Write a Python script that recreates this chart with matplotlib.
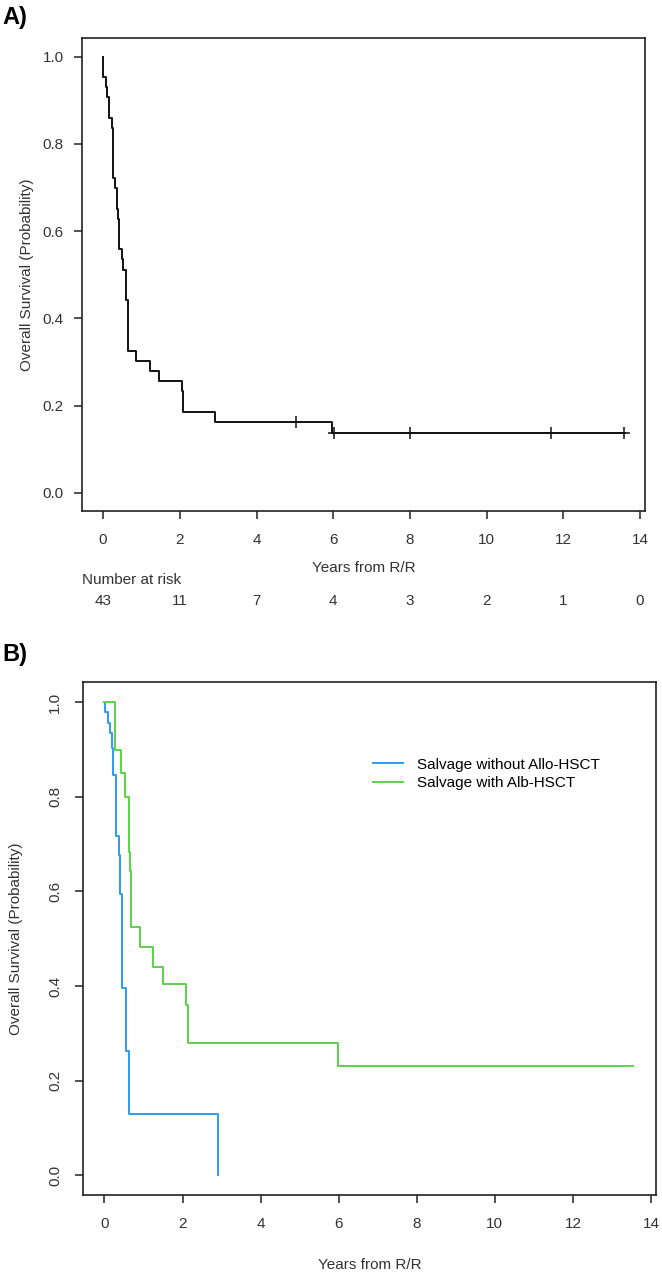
import matplotlib
matplotlib.use("Agg")
import matplotlib.pyplot as plt
import matplotlib.transforms as mtransforms

plt.rcParams["font.family"] = ["Liberation Sans", "DejaVu Sans"]

# --- Panel A: all patients (step-post: time in years, survival after step) ---
A_TIME = [0.0, 0.01, 0.07, 0.11, 0.165, 0.22, 0.25, 0.30, 0.36, 0.39, 0.425,
          0.48, 0.53, 0.60, 0.64, 0.85, 1.21, 1.47, 2.05, 2.08, 2.91, 5.97, 13.6]
A_SURV = [1.0, 0.953, 0.930, 0.907, 0.860, 0.837, 0.721, 0.698, 0.651, 0.628,
          0.558, 0.535, 0.512, 0.442, 0.326, 0.302, 0.279, 0.256, 0.233, 0.186,
          0.163, 0.136, 0.136]
A_CENS_T = [5.03, 6.02, 7.99, 11.67, 13.57]
A_CENS_S = [0.163, 0.136, 0.136, 0.136, 0.136]
RISK_T = [0, 2, 4, 6, 8, 10, 12, 14]
RISK_N = [43, 11, 7, 4, 3, 2, 1, 0]

# --- Panel B: salvage with / without allo-HSCT ---
NO_TIME = [0.0, 0.02, 0.08, 0.135, 0.18, 0.22, 0.30, 0.36, 0.41, 0.45, 0.56,
           0.64, 2.92]
NO_SURV = [1.0, 0.979, 0.956, 0.934, 0.904, 0.847, 0.718, 0.678, 0.595, 0.395,
           0.263, 0.130, 0.0]
HS_TIME = [0.0, 0.28, 0.435, 0.53, 0.62, 0.65, 0.69, 0.92, 1.245, 1.50, 2.10,
           2.14, 5.97, 13.55]
HS_SURV = [1.0, 0.90, 0.85, 0.80, 0.683, 0.644, 0.525, 0.483, 0.441, 0.404,
           0.360, 0.280, 0.231, 0.231]
LABELS = ["Salvage without Allo-HSCT", "Salvage with Alb-HSCT"]
COLORS = ["#2b9cf2", "#5bd24a"]

XTICKS = [0, 2, 4, 6, 8, 10, 12, 14]
YTICKS = [0.0, 0.2, 0.4, 0.6, 0.8, 1.0]
FS = 11


def style(ax):
    ax.set_xlim(-0.55, 14.13)
    ax.set_ylim(-0.042, 1.043)
    ax.set_xticks(XTICKS)
    ax.set_yticks(YTICKS)
    ax.set_yticklabels([f"{v:.1f}" for v in YTICKS])
    ax.tick_params(direction="out", length=6, width=1.1, labelsize=FS,
                   color="#222222", labelcolor="#333333")
    ax.tick_params(axis="x", pad=10)
    for s in ax.spines.values():
        s.set_linewidth(1.2)
        s.set_color("#222222")


fig = plt.figure(figsize=(6.62, 12.73), dpi=100)

# ---------------- A ----------------
axA = fig.add_axes([0.1239, 0.5986, 0.8504, 0.3715])
axA.step(A_TIME, A_SURV, where="post", color="#111111", lw=1.4)
axA.plot(A_CENS_T, A_CENS_S, "+", color="#111111", ms=8, mew=1.1)
style(axA)
axA.tick_params(axis="y", pad=7)
axA.set_xlabel("Years from R/R", fontsize=FS, color="#333333")
axA.xaxis.set_label_coords(0.5, -0.106)
axA.set_ylabel("Overall Survival (Probability)", fontsize=FS, color="#333333")
axA.yaxis.set_label_coords(-0.085, 0.5)
trA = mtransforms.blended_transform_factory(axA.transData, axA.transAxes)
axA.text(-0.55, -0.146, "Number at risk", fontsize=FS, color="#333333",
         ha="left", va="center", transform=trA)
for t, n in zip(RISK_T, RISK_N):
    axA.text(t, -0.190, str(n), fontsize=FS, color="#333333",
             ha="center", va="center", transform=trA)
fig.text(0.003, 0.986, "A)", fontsize=17, fontweight="bold", va="center")

# ---------------- B ----------------
axB = fig.add_axes([0.1254, 0.0613, 0.8656, 0.4030])
axB.step(NO_TIME, NO_SURV, where="post", color=COLORS[0], lw=1.4,
         label=LABELS[0])
axB.step(HS_TIME, HS_SURV, where="post", color=COLORS[1], lw=1.4,
         label=LABELS[1])
style(axB)
axB.tick_params(axis="y", pad=9, labelrotation=90)
for lab in axB.get_yticklabels():
    lab.set_va("center")
axB.set_xlabel("Years from R/R", fontsize=FS, color="#333333")
axB.xaxis.set_label_coords(0.5, -0.122)
axB.set_ylabel("Overall Survival (Probability)", fontsize=FS, color="#333333")
axB.yaxis.set_label_coords(-0.105, 0.5)
axB.legend(loc="upper left", bbox_to_anchor=(0.5634, 0.4047),
           bbox_transform=fig.transFigure, frameon=False, fontsize=FS,
           borderpad=0, borderaxespad=0, handlelength=1.95, handletextpad=0.9,
           labelspacing=0.3)
fig.text(0.003, 0.4855, "B)", fontsize=17, fontweight="bold", va="center")

fig.savefig("out.png", dpi=100)
